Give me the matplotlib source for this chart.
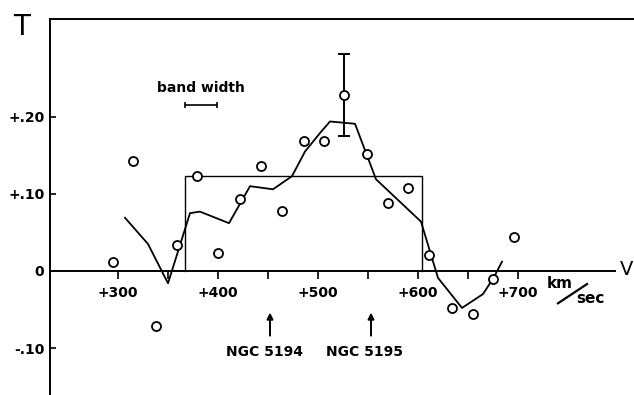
import matplotlib.pyplot as plt

# observed points (velocity km/sec, T)
obs_v = [295, 315, 338, 359, 379, 400, 422, 443, 464, 486, 506, 526,
         549, 570, 590, 611, 634, 655, 675, 696]
obs_t = [0.012, 0.143, -0.071, 0.034, 0.123, 0.023, 0.094, 0.136, 0.078,
         0.169, 0.169, 0.229, 0.152, 0.088, 0.108, 0.021, -0.048, -0.056,
         -0.010, 0.044]

# error bar on the peak point
err_v = 526
err_lo = 0.175
err_hi = 0.281

# smoothed curve
curve_v = [307, 330, 350, 372, 382, 411, 432, 455, 474, 487, 502, 512,
           537, 558, 603, 620, 644, 665, 676, 684]
curve_t = [0.069, 0.035, -0.016, 0.075, 0.077, 0.062, 0.110, 0.106, 0.123,
           0.155, 0.179, 0.194, 0.191, 0.119, 0.064, -0.009, -0.048, -0.030,
           -0.008, 0.012]

# box profile
box_lo, box_hi, box_t = 367, 604, 0.123

# band width marker
band_lo, band_hi, band_t = 367, 399, 0.216

# galaxy velocities
gal_names = ["NGC 5194", "NGC 5195"]
gal_v = [452, 553]

yticks = [-0.10, 0, 0.10, 0.20]
ylabels = ["-.10", "0", "+.10", "+.20"]
xticks = [300, 400, 500, 600, 700]
xlabels = ["+300", "+400", "+500", "+600", "+700"]
xminor = [350, 450, 550, 650]

plt.rcParams['font.family'] = 'DejaVu Sans'

fig = plt.figure(figsize=(6.34, 3.95), dpi=100)
ax = fig.add_axes([50 / 634, 0, 584 / 634, 376 / 395])
ax.set_xlim(232, 816)
ax.set_ylim(-0.161, 0.327)

ax.spines['right'].set_visible(False)
ax.spines['bottom'].set_position(('data', 0))
ax.spines['bottom'].set_bounds(232, 797)
for s in ['left', 'top', 'bottom']:
    ax.spines[s].set_linewidth(1.4)

ax.set_yticks(yticks)
ax.set_yticklabels(ylabels, fontweight='bold', fontsize=10)
ax.tick_params(axis='y', direction='in', length=4, width=1.2, pad=4)
ax.set_xticks(xticks)
ax.set_xticklabels(xlabels, fontweight='bold', fontsize=10)
ax.set_xticks(xminor, minor=True)
ax.tick_params(axis='x', which='both', direction='out', length=6, width=1.2, pad=5)

ax.plot([box_lo, box_lo, box_hi, box_hi], [0, box_t, box_t, 0], color='black', lw=1.0)
ax.plot(curve_v, curve_t, color='black', lw=1.3)
ax.errorbar([err_v], [(err_lo + err_hi) / 2], yerr=[[(err_hi - err_lo) / 2]],
            fmt='none', ecolor='black', elinewidth=1.4, capsize=4, capthick=1.4)
ax.plot(obs_v, obs_t, 'o', ms=6.5, mfc='white', mec='black', mew=1.3, zorder=5)

# band width
ax.errorbar([(band_lo + band_hi) / 2], [band_t], xerr=[(band_hi - band_lo) / 2],
            fmt='none', ecolor='black', elinewidth=1.2, capsize=2.5, capthick=1.2)
ax.text((band_lo + band_hi) / 2, band_t + 0.013, "band width", ha='center', va='bottom',
        fontweight='bold', fontsize=10)

for name, v in zip(gal_names, gal_v):
    ax.annotate("", xy=(v, -0.054), xytext=(v, -0.084),
                arrowprops=dict(arrowstyle='-|>', color='black', lw=1.4,
                                mutation_scale=9, shrinkA=0, shrinkB=0))
    ax.text(v - 6, -0.105, name, ha='center', va='center', fontweight='bold', fontsize=10)

# axis names
ax.text(204, 0.317, "T", ha='center', va='center', fontsize=20)
ax.text(802, 0.002, "V", ha='left', va='center', fontsize=14)
ax.text(742, -0.016, "km", ha='center', va='center', fontweight='bold', fontsize=11)
ax.plot([740, 769], [-0.042, -0.017], color='black', lw=1.6, clip_on=False)
ax.text(772, -0.036, "sec", ha='center', va='center', fontweight='bold', fontsize=11)

fig.savefig("out.png", dpi=100)
